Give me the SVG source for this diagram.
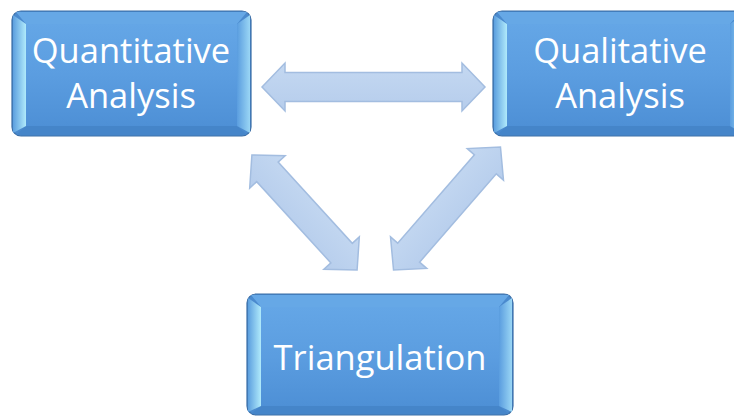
<svg xmlns="http://www.w3.org/2000/svg" width="734" height="416" viewBox="0 0 734 416">
  <defs>
    <linearGradient id="face" x1="0" y1="0" x2="0" y2="1">
      <stop offset="0" stop-color="#64a6e6"/>
      <stop offset="0.5" stop-color="#5b9de0"/>
      <stop offset="1" stop-color="#4e90d6"/>
    </linearGradient>
    <linearGradient id="bevL" x1="0" y1="0" x2="1" y2="0">
      <stop offset="0" stop-color="#5c9fdf"/>
      <stop offset="1" stop-color="#b0eafb"/>
    </linearGradient>
    <linearGradient id="bevR" x1="0" y1="0" x2="1" y2="0">
      <stop offset="0" stop-color="#5a9ddf"/>
      <stop offset="1" stop-color="#9ad6f5"/>
    </linearGradient>
    <linearGradient id="arrowFill" x1="0" y1="0" x2="0" y2="1">
      <stop offset="0" stop-color="#c4d8f1"/>
      <stop offset="1" stop-color="#b6cdec"/>
    </linearGradient>
  </defs>
  <style>
    .outer { fill: #4a8ace; stroke: #3b6ea6; stroke-width: 1.2; }
    .top { fill: #66a8e6; }
    .bot { fill: #4585c9; }
    .left { fill: url(#bevL); }
    .right { fill: url(#bevR); }
    .inner { fill: url(#face); }
    .label { font-family: "Open Sans", "Liberation Sans", sans-serif; font-size: 34.5px; fill: #ffffff; text-anchor: middle; }
    .arrow { fill: url(#arrowFill); stroke: #a3bde0; stroke-width: 1.5; stroke-linejoin: miter; }
  </style>

  <g id="connectors">
    <polygon class="arrow" transform="translate(373.5,87)" points="-111.5,0 -88.5,-24 -88.5,-14.5 88.5,-14.5 88.5,-24 111.5,0 88.5,24 88.5,14.5 -88.5,14.5 -88.5,24"/>
    <polygon class="arrow" transform="translate(304.5,212.5) rotate(47.6)" points="-78,0 -55,-24 -55,-14.5 55,-14.5 55,-24 78,0 55,24 55,14.5 -55,14.5 -55,24"/>
    <polygon class="arrow" transform="translate(447,208.5) rotate(-49)" points="-81.5,0 -58.5,-24 -58.5,-14.5 58.5,-14.5 58.5,-24 81.5,0 58.5,24 58.5,14.5 -58.5,14.5 -58.5,24"/>
  </g>

  <g id="quantitative">
    <rect class="outer" x="12" y="11" width="239" height="125" rx="9"/>
    <polygon class="top" points="16,12 247,12 237,24 26,24"/>
    <polygon class="bot" points="26,126 237,126 247,135 16,135"/>
    <polygon class="left" points="13,15 26,24 26,126 13,133"/>
    <polygon class="right" points="237,24 250,15 250,133 237,126"/>
    <rect class="inner" x="26" y="24" width="211" height="102"/>
    <text class="label" x="131" y="63">Quantitative</text>
    <text class="label" x="131" y="108">Analysis</text>
  </g>

  <g id="qualitative">
    <rect class="outer" x="493" y="11" width="251" height="125" rx="9"/>
    <polygon class="top" points="497,12 740,12 730,24 507,24"/>
    <polygon class="bot" points="507,126 730,126 740,135 497,135"/>
    <polygon class="left" points="494,15 507,24 507,126 494,133"/>
    <polygon class="right" points="730,24 743,15 743,133 730,126"/>
    <rect class="inner" x="507" y="24" width="223" height="102"/>
    <text class="label" x="620" y="63">Qualitative</text>
    <text class="label" x="620" y="108">Analysis</text>
  </g>

  <g id="triangulation">
    <rect class="outer" x="247" y="294" width="266" height="121" rx="9"/>
    <polygon class="top" points="251,295 509,295 499,307 261,307"/>
    <polygon class="bot" points="261,406 499,406 509,414 251,414"/>
    <polygon class="left" points="248,298 261,307 261,406 248,412"/>
    <polygon class="right" points="499,307 512,298 512,412 499,406"/>
    <rect class="inner" x="261" y="307" width="238" height="99"/>
    <text class="label" x="380" y="370">Triangulation</text>
  </g>
</svg>
